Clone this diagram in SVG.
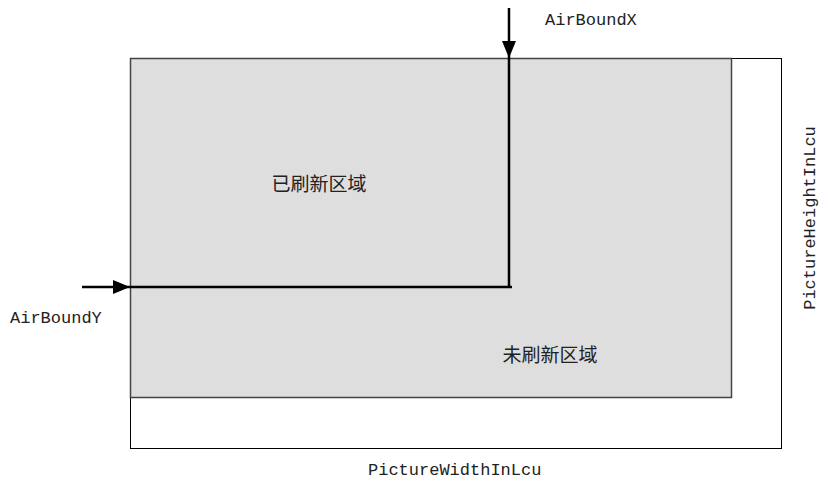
<svg xmlns="http://www.w3.org/2000/svg" width="821" height="483" viewBox="0 0 821 483">
<style>
.lbl{font-family:"Liberation Mono","Noto Sans CJK SC",monospace;font-size:17px;fill:#222}
.cjk{font-family:"Noto Sans CJK SC","Noto Sans CJK JP",sans-serif;font-size:19px;fill:#222}
.ln{stroke:#000;stroke-width:2.5;fill:none}
.head{fill:#000}
</style>
<g id="picture">
<rect x="130.5" y="58.5" width="651" height="390" fill="#fff" stroke="#000" stroke-width="1"/>
</g>
<g id="unrefreshed">
<rect x="130.5" y="58.5" width="601" height="339" fill="#dedede" stroke="#444" stroke-width="1.5"/>
<text class="cjk" x="550" y="362" text-anchor="middle">未刷新区域</text>
</g>
<g id="refreshed">
<text class="cjk" x="319" y="191" text-anchor="middle">已刷新区域</text>
</g>
<g id="connectors">
<path class="ln" d="M509 8 V287.5"/>
<path class="ln" d="M82 287 H512"/>
<polygon class="head" points="502,41 516,41 509,58"/>
<polygon class="head" points="113,280 113,294 130,287"/>
</g>
<g id="labels">
<text class="lbl" x="545" y="25">AirBoundX</text>
<text class="lbl" x="10" y="323">AirBoundY</text>
<text class="lbl" x="368" y="475">PictureWidthInLcu</text>
<text class="lbl" x="0" y="0" text-anchor="middle" transform="translate(815,218) rotate(-90)">PictureHeightInLcu</text>
</g>
</svg>
